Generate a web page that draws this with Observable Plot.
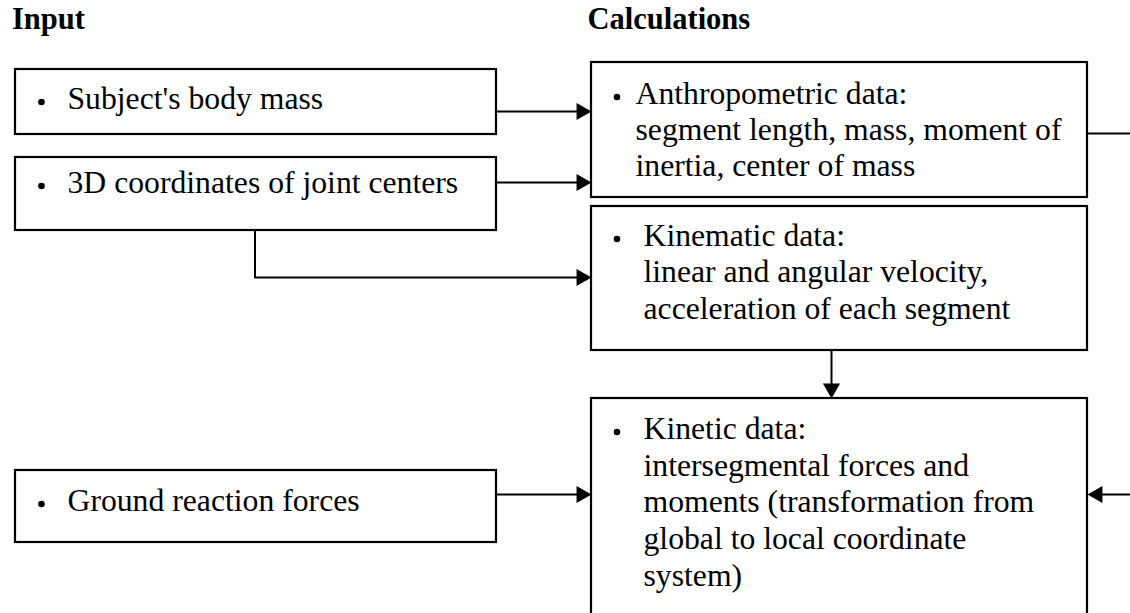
<!DOCTYPE html>
<html>
<head>
<meta charset="utf-8">
<script src="https://cdn.jsdelivr.net/npm/d3@7"></script>
<script src="https://cdn.jsdelivr.net/npm/@observablehq/plot@0.6"></script>
<style>
  html, body { margin: 0; padding: 0; background: #ffffff; }
  #chart svg { display: block; }
</style>
</head>
<body>
<div id="chart"></div>
<script>
// ---- Diagram content ----
const headings = [
  {text: "Input", x: 11.5, y: 28.5},
  {text: "Calculations", x: 587, y: 28.5}
];

const boxes = [
  {id: "mass",      x1: 15,  x2: 496,  y1: 69,  y2: 134},
  {id: "coords",    x1: 15,  x2: 496,  y1: 157, y2: 230},
  {id: "grf",       x1: 15,  x2: 496,  y1: 470, y2: 542},
  {id: "anthro",    x1: 591, x2: 1087, y1: 62,  y2: 197},
  {id: "kinematic", x1: 591, x2: 1087, y1: 206, y2: 350},
  {id: "kinetic",   x1: 591, x2: 1087, y1: 398, y2: 640}
];

const textLines = [
  {text: "Subject's body mass", x: 67, y: 108},
  {text: "3D coordinates of joint centers", x: 67, y: 192},
  {text: "Ground reaction forces", x: 67, y: 510},
  {text: "Anthropometric data:", x: 635, y: 103},
  {text: "segment length, mass, moment of", x: 635, y: 139},
  {text: "inertia, center of mass", x: 635, y: 175},
  {text: "Kinematic data:", x: 643, y: 245},
  {text: "linear and angular velocity,", x: 643, y: 281},
  {text: "acceleration of each segment", x: 643, y: 318},
  {text: "Kinetic data:", x: 643, y: 438},
  {text: "intersegmental forces and", x: 643, y: 475},
  {text: "moments (transformation from", x: 643, y: 511},
  {text: "global to local coordinate", x: 643, y: 548},
  {text: "system)", x: 643, y: 585}
];

const bullets = [
  {x: 41, y: 101.5}, {x: 41, y: 185.5}, {x: 41, y: 503.5},
  {x: 616.5, y: 96.5}, {x: 616.5, y: 238.5}, {x: 616.5, y: 431.5}
];

const connectors = [
  {id: "c1", x: 496, y: 111}, {id: "c1", x: 582, y: 111},
  {id: "c2", x: 496, y: 182}, {id: "c2", x: 582, y: 182},
  {id: "c3", x: 254.5, y: 230}, {id: "c3", x: 254.5, y: 277}, {id: "c3", x: 582, y: 277},
  {id: "c4", x: 831, y: 350}, {id: "c4", x: 831, y: 389},
  {id: "c5", x: 496, y: 494}, {id: "c5", x: 582, y: 494},
  {id: "c6", x: 1087, y: 133}, {id: "c6", x: 1130, y: 133},
  {id: "c7", x: 1130, y: 494}, {id: "c7", x: 1096, y: 494}
];

// arrow tips and direction (degrees, 90 = pointing right)
const arrowTips = [
  {x: 591, y: 111, dir: 90},
  {x: 591, y: 182, dir: 90},
  {x: 591, y: 277, dir: 90},
  {x: 831, y: 398, dir: 180},
  {x: 591, y: 494, dir: 90},
  {x: 1087, y: 494, dir: -90}
];

// ---- Drawing ----
const serif = "'Liberation Serif', 'Times New Roman', Times, serif";
const headR = 6.4;
const headOffset = 2 * Math.sqrt((headR * headR * Math.PI) / (3 * Math.sqrt(3)));
const rad = d => (d.dir - 90) * Math.PI / 180;

const chart = Plot.plot({
  width: 1130,
  height: 613,
  margin: 0,
  style: {background: "#ffffff"},
  x: {domain: [0, 1130], range: [0, 1130], axis: null},
  y: {domain: [0, 613], range: [0, 613], axis: null},
  marks: [
    Plot.rect(boxes, {x1: "x1", x2: "x2", y1: "y1", y2: "y2", fill: "none", stroke: "#000", strokeWidth: 2.2, clip: true}),
    Plot.line(connectors, {x: "x", y: "y", z: "id", stroke: "#000", strokeWidth: 2, curve: "linear"}),
    Plot.dot(arrowTips, {
      x: d => d.x - headOffset * Math.cos(rad(d)),
      y: d => d.y - headOffset * Math.sin(rad(d)),
      symbol: "triangle",
      rotate: "dir",
      r: headR,
      fill: "#000",
      stroke: "none"
    }),
    Plot.dot(bullets, {x: "x", y: "y", r: 3.3, fill: "#000", stroke: "none"}),
    Plot.text(headings, {x: "x", y: "y", text: "text", textAnchor: "start", lineAnchor: "bottom",
      fontSize: 30.5, fontWeight: "bold", fontFamily: serif, fill: "#000"}),
    Plot.text(textLines, {x: "x", y: "y", text: "text", textAnchor: "start", lineAnchor: "bottom",
      fontSize: 31.7, fontFamily: serif, fill: "#000"})
  ]
});

document.getElementById("chart").appendChild(chart);
</script>
</body>
</html>
